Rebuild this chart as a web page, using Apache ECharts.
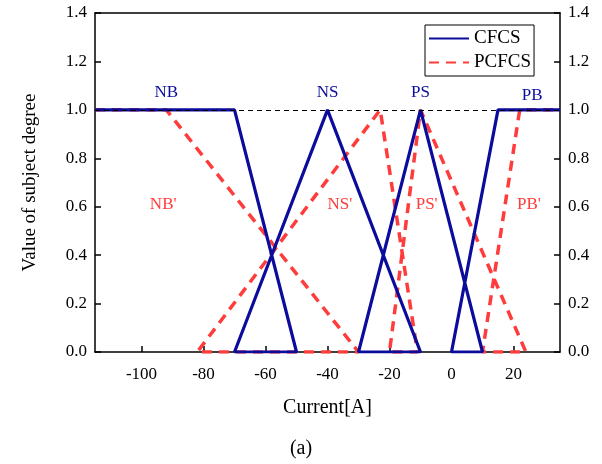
<!DOCTYPE html>
<html>
<head>
<meta charset="utf-8">
<script src="https://cdn.jsdelivr.net/npm/echarts@6/dist/echarts.min.js"></script>
<style>
  html, body { margin: 0; padding: 0; background: #fff; }
  #chart { width: 602px; height: 464px; }
</style>
</head>
<body>
<div id="chart"></div>
<script>
// CFCS membership functions, drawn as one polyline (NB, NS, PS, PB)
const cfcsX = [-115, -70, -50, -70, -40, -10, -30, -10, 10, 0, 15, 35]
const cfcsY = [1, 1, 0, 0, 1, 0, 0, 1, 0, 0, 1, 1]
// PCFCS membership functions (NB', NS', PS', PB')
const pcfcsX = [-115, -92, -30, -82, -23, -11, -20, -10, 24, 10, 22, 35]
const pcfcsY = [1, 1, 0, 0, 1, 0, 0, 1, 0, 0, 1, 1]
const xTicks = [-100, -80, -60, -40, -20, 0, 20]
const cfcsLabels = [['NB', -92, 1.07], ['NS', -40, 1.07], ['PS', -10, 1.07], ['PB', 26, 1.06]]
const pcfcsLabels = [["NB'", -93, 0.61], ["NS'", -36, 0.61], ["PS'", -8, 0.61], ["PB'", 25, 0.61]]

const BLUE = '#0c0c9c'
const RED = '#ff3c3c'
const FONT = 'Liberation Serif'

const pairs = (xs, ys) => xs.map((x, i) => [x, ys[i]])

const chart = echarts.init(document.getElementById('chart'))

const axisLine = { show: true, onZero: false, lineStyle: { color: '#000', width: 1.5 } }
const yAxisBase = {
  type: 'value', min: 0, max: 1.4, interval: 0.2,
  axisLine: axisLine,
  axisTick: { show: true, inside: true, length: 6, lineStyle: { color: '#000', width: 1.5 } },
  axisLabel: { color: '#000', fontFamily: FONT, fontSize: 17, formatter: v => v.toFixed(1) },
  splitLine: { show: false },
}

chart.setOption({
  animation: false,
  backgroundColor: '#fff',
  textStyle: { fontFamily: FONT },
  title: {
    text: '(a)', left: 'center', top: 434,
    textStyle: { fontFamily: FONT, fontSize: 20, fontWeight: 'normal', color: '#000' },
  },
  grid: { left: 95, right: 42, top: 13, bottom: 112 },
  legend: {
    orient: 'vertical', left: 425, top: 25,
    data: [
      { name: 'CFCS', itemStyle: { opacity: 0 } },
      { name: 'PCFCS', itemStyle: { opacity: 0 } },
    ],
    itemWidth: 40, itemHeight: 12, itemGap: 5,
    padding: [4, 3, 4, 3],
    borderColor: '#000', borderWidth: 1, backgroundColor: '#fff',
    textStyle: { fontFamily: FONT, fontSize: 19, color: '#000' },
  },
  xAxis: [{
    type: 'value', min: -115, max: 35,
    name: 'Current[A]', nameLocation: 'middle', nameGap: 46,
    nameTextStyle: { fontFamily: FONT, fontSize: 20, color: '#000' },
    axisLine: axisLine,
    axisTick: { show: true, inside: true, length: 6, customValues: xTicks, lineStyle: { color: '#000', width: 1.5 } },
    axisLabel: { color: '#000', fontFamily: FONT, fontSize: 17, margin: 14, customValues: xTicks },
    splitLine: { show: false },
  }, {
    type: 'value', min: -115, max: 35, position: 'top',
    axisLine: axisLine,
    axisTick: { show: false }, axisLabel: { show: false }, splitLine: { show: false },
  }],
  yAxis: [
    Object.assign({}, yAxisBase, {
      name: 'Value of subject degree', nameLocation: 'middle', nameGap: 55,
      nameTextStyle: { fontFamily: FONT, fontSize: 19, color: '#000' },
    }),
    Object.assign({}, yAxisBase, { position: 'right' }),
  ],
  series: [
    {
      name: 'PCFCS', type: 'line', data: pairs(pcfcsX, pcfcsY),
      symbol: 'none', z: 2,
      lineStyle: { color: RED, width: 3.5, type: [10, 7] },
      itemStyle: { color: RED },
    },
    {
      name: 'CFCS', type: 'line', data: pairs(cfcsX, cfcsY),
      symbol: 'none', z: 3,
      lineStyle: { color: BLUE, width: 3.2 },
      itemStyle: { color: BLUE },
      markLine: {
        silent: true, symbol: 'none', label: { show: false },
        lineStyle: { color: '#000', width: 1, type: [5, 4] },
        data: [{ yAxis: 1 }],
      },
    },
    {
      type: 'scatter', symbolSize: 0, z: 4, itemStyle: { opacity: 1 },
      data: cfcsLabels.map(d => ({ name: d[0], value: [d[1], d[2]] })),
      label: { show: true, position: 'inside', formatter: '{b}', color: BLUE, fontFamily: FONT, fontSize: 17 },
    },
    {
      type: 'scatter', symbolSize: 0, z: 4, itemStyle: { opacity: 1 },
      data: pcfcsLabels.map(d => ({ name: d[0], value: [d[1], d[2]] })),
      label: { show: true, position: 'inside', formatter: '{b}', color: RED, fontFamily: FONT, fontSize: 17 },
    },
  ],
})
</script>
</body>
</html>
